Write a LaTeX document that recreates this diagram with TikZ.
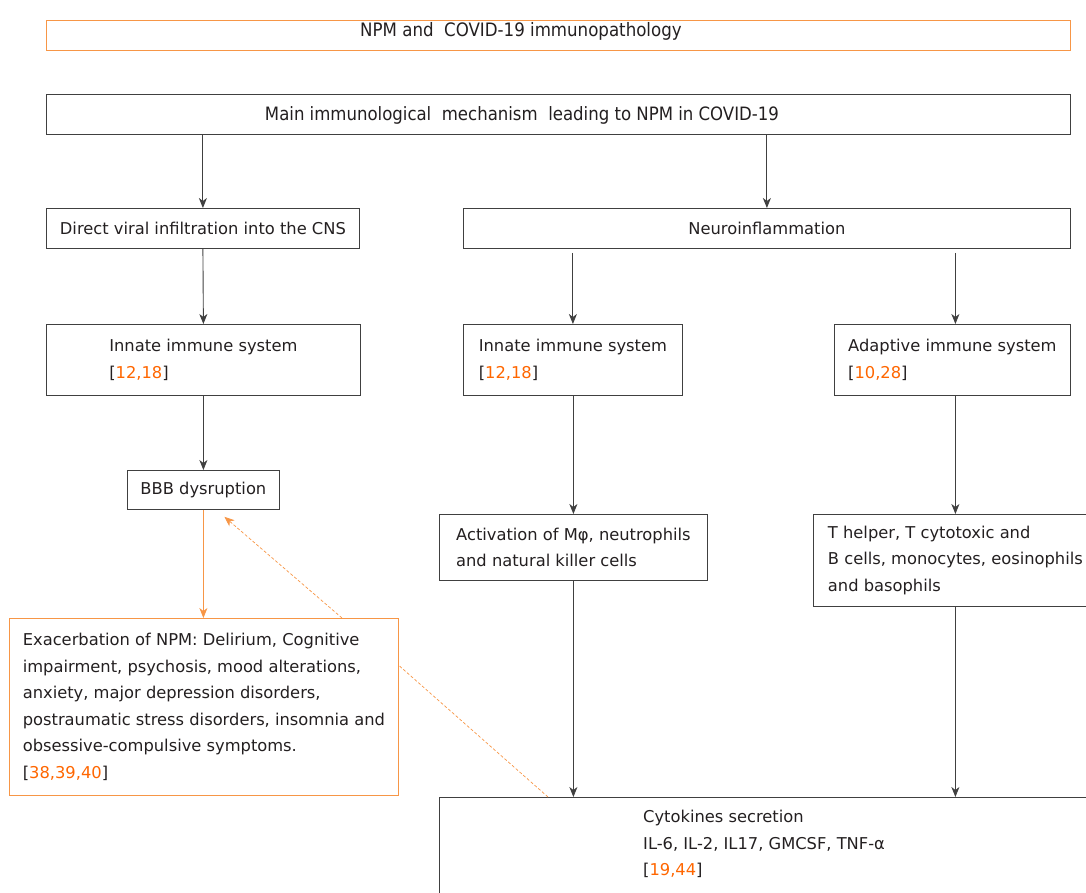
\documentclass[tikz,border=0pt]{standalone}
\usepackage{fontspec}
\setmainfont{DejaVu Sans}
\newfontfamily\condfont{DejaVu Sans Condensed}
\usetikzlibrary{arrows.meta}
\definecolor{ink}{HTML}{231F20}
\definecolor{edge}{HTML}{404040}
\definecolor{orng}{HTML}{F79646}
\definecolor{refc}{HTML}{FF6600}
\newcommand{\rf}[1]{[\textcolor{refc}{#1}]}
\begin{document}
\begin{tikzpicture}[x=1pt,y=-1pt,
  every node/.style={text=ink},
  body/.style={font=\fontsize{16.3}{26.5}\selectfont, align=left},
  box/.style={body, draw=edge, line width=0.8pt, inner sep=0pt, anchor=north west},
  obox/.style={box, draw=orng},
  arr/.style={-{Stealth[length=10pt,width=8pt,inset=3pt]}, draw=edge, line width=0.9pt},
  oarr/.style={arr, draw=orng},
  darr/.style={oarr, dash pattern=on 3pt off 2pt, line width=0.7pt}]
\useasboundingbox (0,0) rectangle (1086,892);
\clip (0,0) rectangle (1086,892);
% titles
\node[obox, minimum width=1024pt, minimum height=30pt] (title) at (46,20) {};
\node[font=\condfont\fontsize{18.5}{22}\selectfont, inner sep=0pt] (titletext) at (521,31) {NPM and\ \ COVID-19 immunopathology};
\node[box, minimum width=1024pt, minimum height=40pt] (main) at (46,94) {};
\node[font=\condfont\fontsize{18.4}{22}\selectfont, inner sep=0pt] (maintext) at (522,115) {Main immunological\ \ mechanism\ \ leading to NPM in COVID-19};
% second level
\node[box, minimum width=313pt, minimum height=40pt, align=center] (direct) at (46,208) {Direct viral infiltration into the CNS};
\node[box, minimum width=607pt, minimum height=40pt, align=center] (neuro) at (463,208) {Neuroinflammation};
% third level
\node[box, minimum width=314pt, minimum height=71pt] (innateA) at (46,324) {Innate immune system\\\rf{12,18}};
\node[box, minimum width=219pt, minimum height=71pt] (innateB) at (463,324) {Innate immune system\\\rf{12,18}};
\node[box, minimum width=236pt, minimum height=71pt] (adapt) at (834,324) {Adaptive immune system\\\rf{10,28}};
% fourth level
\node[box, minimum width=152pt, minimum height=39pt, align=center] (bbb) at (127,470) {BBB dysruption};
\node[box, minimum width=268pt, minimum height=66pt] (activ) at (439,514) {Activation of Mφ, neutrophils\\and natural killer cells};
\node[box, minimum width=284pt, minimum height=92pt] (thelp) at (813,514) {T helper, T cytotoxic and\\B cells, monocytes, eosinophils\\and basophils};
% NPM box
\node[obox, minimum width=389pt, minimum height=177pt] (npm) at (9,618) {Exacerbation of NPM: Delirium, Cognitive\\impairment, psychosis, mood alterations,\\anxiety, major depression disorders,\\postraumatic stress disorders, insomnia and\\obsessive-compulsive symptoms.\\\rf{38,39,40}};
% cytokines
\node[box, minimum width=700pt, minimum height=150pt] (cyto) at (439,797) {};
\node[body, anchor=north west, inner sep=0pt] (cytotext) at (643,810) {Cytokines secretion\\IL-6, IL-2, IL17, GMCSF, TNF-α\\\rf{19,44}};
% connectors
\draw[arr] (main.south -| direct.north) -- (direct.north);
\draw[arr] (main.south -| neuro.north) -- (neuro.north);
\draw[arr] (direct.south) -- (innateA.north);
\draw[arr] ([yshift=-4pt]neuro.south -| innateB.north) -- (innateB.north);
\draw[arr] ([yshift=-4pt]neuro.south -| thelp.north) -- (thelp.north |- adapt.north);
\draw[arr] (innateA.south) -- (bbb.north);
\draw[arr] (innateB.south -| activ.north) -- (activ.north);
\draw[arr] (adapt.south -| thelp.north) -- (thelp.north);
\draw[arr] (activ.south) -- (activ.south |- cyto.north);
\draw[arr] (thelp.south) -- (thelp.south |- cyto.north);
\draw[oarr] (bbb.south) -- (bbb.south |- npm.north);
\coordinate (dA1) at ([xshift=333pt]npm.north west);
\coordinate (dA2) at ([xshift=21pt,yshift=-7pt]bbb.south);
\draw[darr] (dA1) -- (dA2);
\coordinate (dB1) at ([xshift=109pt]cyto.north west);
\coordinate (dB2) at ([yshift=41.5pt]npm.east);
\draw[orng, dash pattern=on 3pt off 2pt, line width=0.7pt] (dB1) -- (dB2);
\end{tikzpicture}
\end{document}
